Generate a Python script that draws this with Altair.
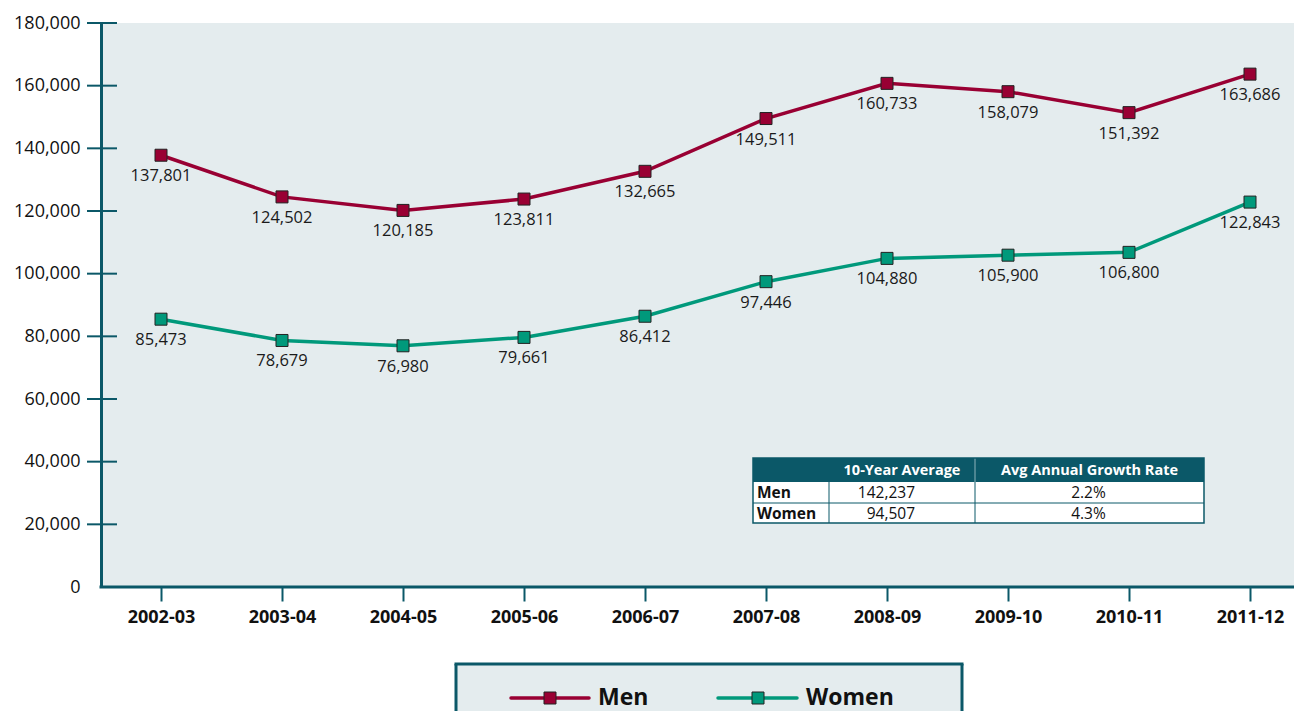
import altair as alt
import pandas as pd

# ---------------- data ----------------
years = ["2002-03", "2003-04", "2004-05", "2005-06", "2006-07",
         "2007-08", "2008-09", "2009-10", "2010-11", "2011-12"]
men = [137801, 124502, 120185, 123811, 132665, 149511, 160733, 158079, 151392, 163686]
women = [85473, 78679, 76980, 79661, 86412, 97446, 104880, 105900, 106800, 122843]
series = ["Men", "Women"]
series_colors = ["#990033", "#00997b"]
y_ticks = [0, 20000, 40000, 60000, 80000, 100000, 120000, 140000, 160000, 180000]

table_header = ["10-Year Average", "Avg Annual Growth Rate"]
table_rows = ["Men", "Women"]
table_avg = ["142,237", "94,507"]
table_growth = ["2.2%", "4.3%"]

# ---------------- styling ----------------
FONT = "Open Sans"
TEAL = "#0b5868"
BG = "#e4ecee"
W, H = 1193, 564

rows = []
for s, vals in zip(series, [men, women]):
    for y, v in zip(years, vals):
        rows.append({"year": y, "series": s, "value": v, "label": f"{v:,}"})
df = pd.DataFrame(rows)

xenc = alt.X(
    "year:N", sort=years,
    scale=alt.Scale(type="point", range=[60, 1149], padding=0),
    axis=alt.Axis(title=None, labelFont=FONT, labelFontSize=18, labelFontWeight="bold",
                  labelColor="#111111", labelAngle=0, domain=False,
                  tickColor=TEAL, tickWidth=2, tickSize=14, labelPadding=7),
)
yscale = alt.Scale(domain=[0, 180000], nice=False, zero=True)
yaxis = alt.Axis(title=None, values=y_ticks, format=",.0f", labelFont=FONT, labelFontSize=18,
                 labelColor="#111111", grid=False, ticks=False, tickSize=0,
                 labelPadding=21, domainColor=TEAL, domainWidth=3)
yenc = alt.Y("value:Q", scale=yscale, axis=yaxis)
color = alt.Color("series:N", scale=alt.Scale(domain=series, range=series_colors), legend=None)

base = alt.Chart(df)
lines = base.mark_line(strokeWidth=3.5).encode(x=xenc, y=yenc, color=color, detail="series:N")
points = base.mark_point(shape="square", filled=True, size=144, stroke="#222222",
                         strokeWidth=1, opacity=1).encode(
    x=xenc, y=yenc,
    fill=alt.Fill("series:N", scale=alt.Scale(domain=series, range=series_colors), legend=None))
labels = base.mark_text(font=FONT, fontSize=16.5, color="#1a1a1a", baseline="middle",
                        align="center", dy=21).encode(x=xenc, y=yenc, text="label:N")

# y tick marks crossing the axis
tick_df = pd.DataFrame({"value": [t for t in y_ticks if t > 0]})
yticks = alt.Chart(tick_df).mark_rule(color=TEAL, strokeWidth=2).encode(
    y=yenc, x=alt.value(-14), x2=alt.value(16))

one = lambda: alt.Chart(alt.Data(values=[{"k": 0}]))

xline = one().mark_rule(color=TEAL, strokeWidth=3).encode(
    x=alt.value(-1.5), x2=alt.value(W), y=alt.value(H), y2=alt.value(H))

layers = [lines, yticks, xline, points, labels]

# ---------------- table ----------------
TX0, TX1, TX2, TX3 = 652, 728, 874, 1103
TY0, TY1, TY2, TY3 = 435, 459, 480, 500
layers.append(one().mark_rect(fill="white").encode(
    x=alt.value(TX0), x2=alt.value(TX3), y=alt.value(TY1), y2=alt.value(TY3)))
layers.append(one().mark_rect(fill=TEAL).encode(
    x=alt.value(TX0), x2=alt.value(TX3), y=alt.value(TY0), y2=alt.value(TY1)))
layers.append(one().mark_rule(color=TEAL, strokeWidth=1).encode(
    x=alt.value(TX0), x2=alt.value(TX3), y=alt.value(TY2), y2=alt.value(TY2)))
layers.append(one().mark_rule(color=TEAL, strokeWidth=1).encode(
    x=alt.value(TX1), x2=alt.value(TX1), y=alt.value(TY1), y2=alt.value(TY3)))
layers.append(one().mark_rule(color=TEAL, strokeWidth=1).encode(
    x=alt.value(TX2), x2=alt.value(TX2), y=alt.value(TY1), y2=alt.value(TY3)))
layers.append(one().mark_rule(color="#8fb3ba", strokeWidth=1).encode(
    x=alt.value(TX2), x2=alt.value(TX2), y=alt.value(TY0), y2=alt.value(TY1)))
layers.append(one().mark_rect(fill=None, fillOpacity=0, stroke=TEAL, strokeWidth=1.5).encode(
    x=alt.value(TX0), x2=alt.value(TX3), y=alt.value(TY0), y2=alt.value(TY3)))

hdr_cx = [(TX1 + TX2) / 2, (TX2 + TX3) / 2]
for txt, cx in zip(table_header, hdr_cx):
    layers.append(one().mark_text(text=txt, font=FONT, fontSize=14.5, fontWeight="bold",
                                  color="white", align="center", baseline="middle").encode(
        x=alt.value(cx), y=alt.value((TY0 + TY1) / 2 + 0.5)))
row_cy = [(TY1 + TY2) / 2 + 0.5, (TY2 + TY3) / 2 + 0.5]
for name, avg, gr, cy in zip(table_rows, table_avg, table_growth, row_cy):
    layers.append(one().mark_text(text=name, font=FONT, fontSize=15.5, fontWeight="bold",
                                  color="#111111", align="left", baseline="middle").encode(
        x=alt.value(TX0 + 4), y=alt.value(cy)))
    layers.append(one().mark_text(text=avg, font=FONT, fontSize=15.5,
                                  color="#111111", align="right", baseline="middle").encode(
        x=alt.value(814), y=alt.value(cy)))
    layers.append(one().mark_text(text=gr, font=FONT, fontSize=15.5,
                                  color="#111111", align="center", baseline="middle").encode(
        x=alt.value((TX2 + TX3) / 2 - 1), y=alt.value(cy)))

# ---------------- custom legend ----------------
LX0, LX1, LY0, LY1 = 355, 861, 641, 720
layers.append(one().mark_rect(fill=BG).encode(
    x=alt.value(LX0), x2=alt.value(LX1), y=alt.value(LY0), y2=alt.value(LY1)))
layers.append(one().mark_rule(color=TEAL, strokeWidth=3).encode(
    x=alt.value(LX0 - 1.5), x2=alt.value(LX1 + 1.5), y=alt.value(LY0), y2=alt.value(LY0)))
layers.append(one().mark_rule(color=TEAL, strokeWidth=3).encode(
    x=alt.value(LX0), x2=alt.value(LX0), y=alt.value(LY0), y2=alt.value(LY1)))
layers.append(one().mark_rule(color=TEAL, strokeWidth=3).encode(
    x=alt.value(LX1), x2=alt.value(LX1), y=alt.value(LY0), y2=alt.value(LY1)))

LEG_Y = 675
leg_line = [(410, 488), (617, 696)]
leg_mark = [449, 657]
leg_text = [497, 705]
for s, c, (a, b), m, t in zip(series, series_colors, leg_line, leg_mark, leg_text):
    layers.append(one().mark_rule(color=c, strokeWidth=3.5, strokeCap="round").encode(
        x=alt.value(a), x2=alt.value(b), y=alt.value(LEG_Y), y2=alt.value(LEG_Y)))
    layers.append(one().mark_point(shape="square", filled=True, size=144, fill=c,
                                   stroke="#222222", strokeWidth=1, opacity=1).encode(
        x=alt.value(m), y=alt.value(LEG_Y)))
    layers.append(one().mark_text(text=s, font=FONT, fontSize=23, fontWeight="bold",
                                  color="#111111", align="left", baseline="middle").encode(
        x=alt.value(t), y=alt.value(LEG_Y)))

chart = alt.layer(*layers).properties(
    width=W, height=H,
    padding={"left": 93, "top": 15, "right": 0, "bottom": 124},
    autosize=alt.AutoSizeParams(type="none"),
    background="white",
).configure_view(fill=BG, stroke=None)

chart.save("out.html", embed_options={"renderer": "svg", "actions": False})
